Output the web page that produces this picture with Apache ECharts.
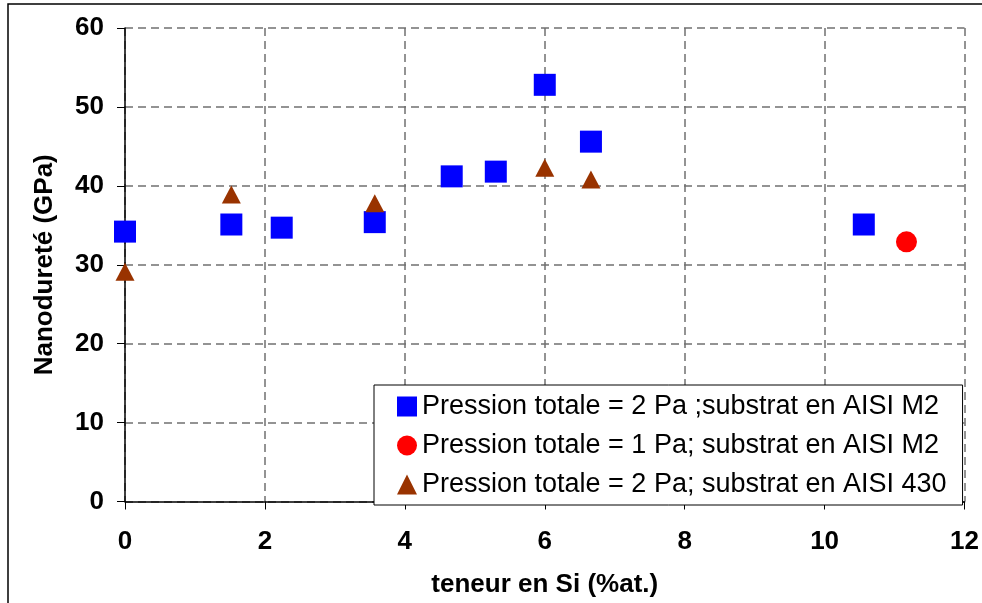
<!DOCTYPE html>
<html>
<head>
<meta charset="utf-8">
<script src="https://cdn.jsdelivr.net/npm/echarts@6/dist/echarts.min.js"></script>
<style>html,body{margin:0;padding:0;background:#fff;}#c{width:982px;height:603px;}</style>
</head>
<body>
<div id="c"></div>
<script>
const xTicks = [0, 2, 4, 6, 8, 10, 12];
const yTicks = [0, 10, 20, 30, 40, 50, 60];
const seriesNames = [
  'Pression totale = 2 Pa ;substrat en AISI M2',
  'Pression totale = 1 Pa; substrat en AISI M2',
  'Pression totale = 2 Pa; substrat en AISI 430'
];
const siM2_2Pa = [0, 1.52, 2.24, 3.57, 4.67, 5.3, 6.0, 6.66, 10.56];
const hardM2_2Pa = [34.2, 35.1, 34.7, 35.4, 41.2, 41.8, 52.8, 45.6, 35.1];
const siM2_1Pa = [11.17];
const hardM2_1Pa = [32.9];
const si430_2Pa = [0, 1.52, 3.57, 6.0, 6.66];
const hard430_2Pa = [29.1, 38.9, 37.8, 42.3, 40.8];

const pairs = (xs, ys) => xs.map((x, i) => [x, ys[i]]);
const FONT = "'Liberation Sans', Arial, sans-serif";

const chart = echarts.init(document.getElementById('c'), null, {renderer: 'canvas'});
chart.setOption({
  animation: false,
  backgroundColor: '#fff',
  textStyle: {fontFamily: FONT},
  graphic: [{
    type: 'rect', z: -10, silent: true,
    shape: {x: 8, y: 4, width: 1000, height: 640},
    style: {fill: 'none', stroke: '#000', lineWidth: 1.5}
  }],
  grid: {left: 125, right: 17, top: 28, bottom: 101.5, containLabel: false},
  legend: {
    orient: 'vertical',
    left: 374, top: 385,
    padding: [8, 16, 7, 23],
    itemGap: 12,
    itemWidth: 20, itemHeight: 20,
    borderColor: '#000', borderWidth: 1,
    backgroundColor: '#fff',
    textStyle: {fontFamily: FONT, fontSize: 27, color: '#000', lineHeight: 26},
    data: [
      {name: seriesNames[0], icon: 'rect'},
      {name: seriesNames[1], icon: 'circle'},
      {name: seriesNames[2], icon: 'triangle'}
    ]
  },
  xAxis: {
    type: 'value', min: xTicks[0], max: xTicks[xTicks.length - 1], interval: 2,
    name: 'teneur en Si (%at.)', nameLocation: 'middle', nameGap: 70,
    nameTextStyle: {fontFamily: FONT, fontSize: 26, fontWeight: 'bold', color: '#000'},
    axisLine: {show: true, onZero: false, lineStyle: {color: '#000', width: 1.5}},
    axisTick: {show: true, inside: false, length: 8, lineStyle: {color: '#000', width: 1}},
    axisLabel: {fontFamily: FONT, fontSize: 26, fontWeight: 'bold', color: '#000', margin: 27},
    splitLine: {show: true, lineStyle: {color: '#707070', width: 1.5, type: [8, 5]}}
  },
  yAxis: {
    type: 'value', min: yTicks[0], max: yTicks[yTicks.length - 1], interval: 10,
    name: 'Nanodureté (GPa)', nameLocation: 'middle', nameGap: 67,
    nameTextStyle: {fontFamily: FONT, fontSize: 26, fontWeight: 'bold', color: '#000'},
    axisLine: {show: true, onZero: false, lineStyle: {color: '#000', width: 1.5}},
    axisTick: {show: true, inside: false, length: 8, lineStyle: {color: '#000', width: 1}},
    axisLabel: {fontFamily: FONT, fontSize: 26, fontWeight: 'bold', color: '#000', margin: 21},
    splitLine: {show: true, lineStyle: {color: '#707070', width: 1.5, type: [8, 5]}}
  },
  series: [
    {
      name: seriesNames[0], type: 'scatter', symbol: 'rect', symbolSize: 22,
      itemStyle: {color: '#0000FF', opacity: 1},
      data: pairs(siM2_2Pa, hardM2_2Pa), z: 3
    },
    {
      name: seriesNames[1], type: 'scatter', symbol: 'circle', symbolSize: 21,
      itemStyle: {color: '#FF0000', opacity: 1},
      data: pairs(siM2_1Pa, hardM2_1Pa), z: 4
    },
    {
      name: seriesNames[2], type: 'scatter', symbol: 'triangle', symbolSize: [19, 18],
      itemStyle: {color: '#993300', opacity: 1},
      data: pairs(si430_2Pa, hard430_2Pa), z: 5
    }
  ]
});
</script>
</body>
</html>
